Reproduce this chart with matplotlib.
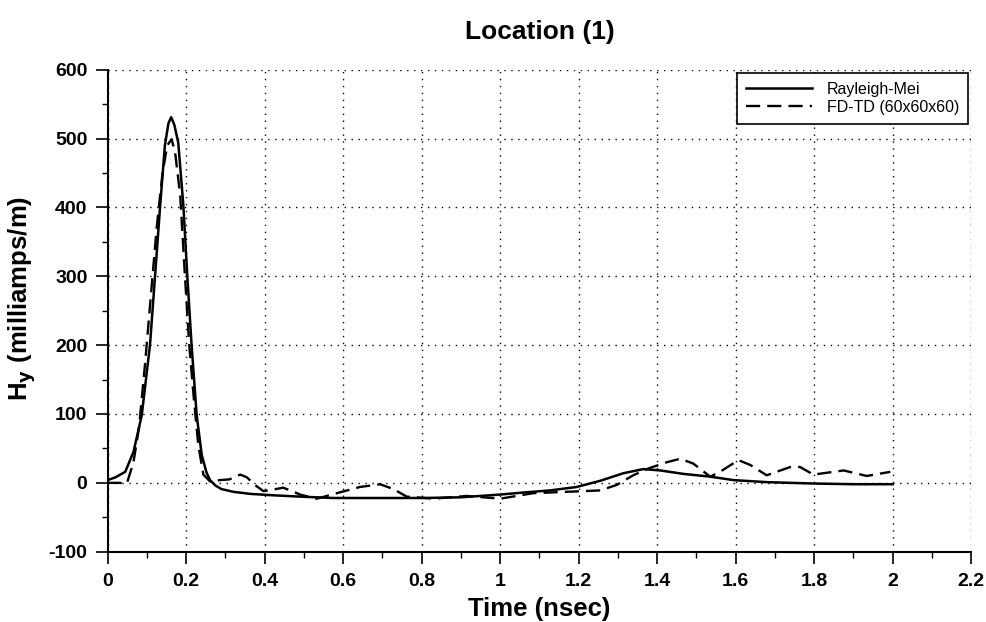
import matplotlib
matplotlib.use("Agg")
import matplotlib.pyplot as plt
from matplotlib.ticker import MultipleLocator

plt.rcParams['font.family'] = ['Liberation Sans', 'DejaVu Sans']
plt.rcParams['axes.unicode_minus'] = False

# Rayleigh-Mei (solid)
t_rm = [0, 0.02, 0.045, 0.066, 0.087, 0.108, 0.121, 0.134, 0.146, 0.155, 0.162, 0.170,
        0.180, 0.193, 0.203, 0.214, 0.227, 0.240, 0.252, 0.261, 0.275, 0.29, 0.32, 0.363,
        0.42, 0.49, 0.575, 0.7, 0.8, 0.9, 1.0, 1.06, 1.127, 1.195, 1.255, 1.314, 1.365,
        1.408, 1.467, 1.535, 1.594, 1.68, 1.8, 1.9, 2.0]
v_rm = [4, 8, 16, 45, 98, 200, 301, 403, 490, 522, 531, 520,
        494, 403, 301, 200, 98, 40, 15, 4, -4, -9, -13, -16,
        -18, -20, -22, -22, -22, -21, -17, -14, -11, -6, 3, 14, 20,
        18, 13, 9, 4, 1, -1, -2, -2]

# FD-TD (60x60x60) (dashed)
t_fd = [0, 0.03, 0.049, 0.066, 0.08, 0.095, 0.11, 0.125, 0.14, 0.152, 0.163, 0.172,
        0.185, 0.197, 0.208, 0.219, 0.231, 0.244, 0.261, 0.287, 0.31, 0.338, 0.355,
        0.375, 0.397, 0.42, 0.447, 0.47, 0.49, 0.533, 0.584, 0.643, 0.694, 0.728,
        0.762, 0.83, 0.915, 1.0, 1.084, 1.17, 1.255, 1.297, 1.339, 1.378, 1.425,
        1.459, 1.492, 1.535, 1.56, 1.607, 1.637, 1.679, 1.739, 1.764, 1.798, 1.875,
        1.934, 1.994]
v_fd = [0, 0, -1, 30, 80, 170, 270, 370, 450, 490, 499, 480,
        417, 301, 200, 127, 55, 12, 2, 4, 5, 12, 8,
        -3, -12, -10, -7, -12, -17, -23, -15, -6, -2, -9,
        -20, -23, -19, -23, -15, -13, -11, -3, 11, 21, 30,
        35, 28, 9, 16, 33, 26, 11, 23, 23, 12, 18,
        10, 16]

xticks = [0, 0.2, 0.4, 0.6, 0.8, 1, 1.2, 1.4, 1.6, 1.8, 2, 2.2]
xticklabels = ['0', '0.2', '0.4', '0.6', '0.8', '1', '1.2', '1.4', '1.6', '1.8', '2', '2.2']
yticks = [-100, 0, 100, 200, 300, 400, 500, 600]

fig = plt.figure(figsize=(9.87, 6.22), dpi=100)
ax = fig.add_axes([0.109, 0.113, 0.875, 0.775])

ax.plot(t_rm, v_rm, color='black', lw=1.8, ls='-', label='Rayleigh-Mei')
ax.plot(t_fd, v_fd, color='black', lw=1.7, ls=(0, (6, 3)), label='FD-TD (60x60x60)')

ax.set_xlim(0, 2.2)
ax.set_ylim(-100, 600)
ax.set_xticks(xticks)
ax.set_xticklabels(xticklabels)
ax.set_yticks(yticks)
ax.xaxis.set_minor_locator(MultipleLocator(0.1))
ax.yaxis.set_minor_locator(MultipleLocator(50))

for s in ['top', 'right']:
    ax.spines[s].set_visible(False)
for s in ['left', 'bottom']:
    ax.spines[s].set_linewidth(1.5)

ax.tick_params(which='major', direction='out', length=8.5, width=1.2, labelsize=14)
ax.tick_params(axis='x', which='major', pad=7)
ax.tick_params(axis='y', which='major', pad=6)
ax.tick_params(which='minor', direction='out', length=4.5, width=1.0)
for lab in ax.get_xticklabels() + ax.get_yticklabels():
    lab.set_fontweight('bold')

ax.grid(True, which='major', color='black', ls=(0, (1, 4)), lw=1.0)

ax.set_title('Location (1)', fontsize=19, fontweight='bold', pad=22)
ax.set_xlabel('Time (nsec)', fontsize=18.5, fontweight='bold')
ax.set_ylabel(r'H$_\mathbf{y}$ (milliamps/m)', fontsize=18.5, fontweight='bold')
ax.xaxis.set_label_coords(0.5, -0.093)
ax.yaxis.set_label_coords(-0.081, 0.526)

leg = ax.legend(loc='upper right', fontsize=11.5, frameon=True, fancybox=False,
                handlelength=4.1, handletextpad=0.95, borderaxespad=0.2,
                borderpad=0.55, labelspacing=0.2)
leg.get_frame().set_edgecolor('black')
leg.get_frame().set_linewidth(1.2)
leg.get_frame().set_alpha(1)

fig.savefig('out.png', dpi=100)
